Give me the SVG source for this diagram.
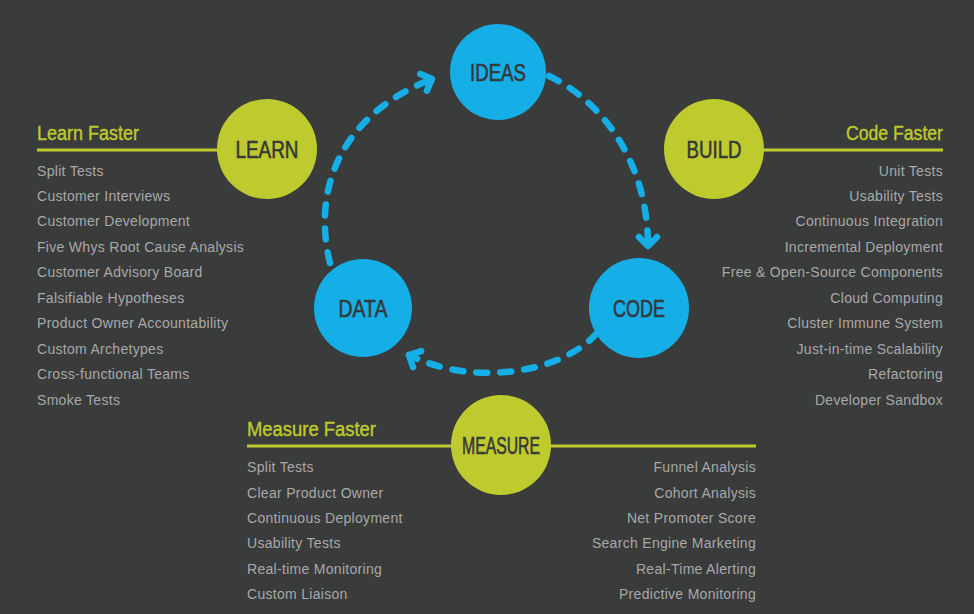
<svg xmlns="http://www.w3.org/2000/svg" width="974" height="614" viewBox="0 0 974 614">
  <style>
    .bg { fill: #3a3b3b; }
    .green { fill: #bfca2f; }
    .blue { fill: #15aee6; }
    .lbl { font-family: "Liberation Sans", Arial, sans-serif; font-size: 24px; fill: #363838; stroke: #363838; stroke-width: 0.6; text-anchor: middle; }
    .head { font-family: "Liberation Sans", Arial, sans-serif; font-size: 20px; fill: #bfca2f; stroke: #bfca2f; stroke-width: 0.4; }
    .item { font-family: "Liberation Sans", Arial, sans-serif; font-size: 14px; fill: #a8a9a9; letter-spacing: 0.3px; }
    .end { text-anchor: end; }
    .rule { stroke: #bfca2f; stroke-width: 2.8; fill: none; }
    .flow { fill: none; stroke: #15aee6; stroke-width: 6.5; stroke-linecap: round; stroke-dasharray: 11 13; }
  </style>
  <defs>
    <marker id="arrow" markerUnits="userSpaceOnUse" viewBox="-16 -12 20 24" markerWidth="20" markerHeight="24" refX="0" refY="0" orient="auto" overflow="visible">
      <path d="M -9 -9 L 0 0 L -9 9" fill="none" stroke="#15aee6" stroke-width="6.5" stroke-linecap="round" stroke-linejoin="round" stroke-dasharray="none"/>
    </marker>
  </defs>
  <rect class="bg" x="0" y="0" width="974" height="614"/>

  <g id="rules">
    <line class="rule" x1="37" y1="150" x2="220" y2="150"/>
    <line class="rule" x1="760" y1="150" x2="943" y2="150"/>
    <line class="rule" x1="247" y1="446" x2="756" y2="446"/>
  </g>

  <g id="connectors">
    <path class="flow" d="M 330 263 C 312 190, 340 115, 432 79" marker-end="url(#arrow)"/>
    <path class="flow" d="M 549 76 C 600 100, 648 160, 648 246" marker-end="url(#arrow)"/>
    <path class="flow" d="M 597 333 C 560 375, 470 386, 409 355" marker-end="url(#arrow)"/>
  </g>

  <g id="node-ideas">
    <circle class="blue" cx="498" cy="72" r="48"/>
    <text class="lbl" x="498" y="81" textLength="56" lengthAdjust="spacingAndGlyphs">IDEAS</text>
  </g>
  <g id="node-code">
    <circle class="blue" cx="639" cy="308" r="50"/>
    <text class="lbl" x="639" y="316.5" textLength="52" lengthAdjust="spacingAndGlyphs">CODE</text>
  </g>
  <g id="node-data">
    <circle class="blue" cx="363" cy="308" r="49"/>
    <text class="lbl" x="363" y="316.5" textLength="49" lengthAdjust="spacingAndGlyphs">DATA</text>
  </g>
  <g id="node-learn">
    <circle class="green" cx="267" cy="149" r="50"/>
    <text class="lbl" x="267" y="157.5" textLength="63" lengthAdjust="spacingAndGlyphs">LEARN</text>
  </g>
  <g id="node-build">
    <circle class="green" cx="714" cy="149" r="50"/>
    <text class="lbl" x="714" y="157.5" textLength="55" lengthAdjust="spacingAndGlyphs">BUILD</text>
  </g>
  <g id="node-measure">
    <circle class="green" cx="501" cy="445" r="50"/>
    <text class="lbl" x="501" y="453.5" textLength="78" lengthAdjust="spacingAndGlyphs">MEASURE</text>
  </g>

  <g id="learn-list">
    <text class="head" x="37" y="140" textLength="102" lengthAdjust="spacingAndGlyphs">Learn Faster</text>
    <text class="item" x="37" y="175.5">Split Tests</text>
    <text class="item" x="37" y="201">Customer Interviews</text>
    <text class="item" x="37" y="226.4">Customer Development</text>
    <text class="item" x="37" y="251.8">Five Whys Root Cause Analysis</text>
    <text class="item" x="37" y="277.3">Customer Advisory Board</text>
    <text class="item" x="37" y="302.7">Falsifiable Hypotheses</text>
    <text class="item" x="37" y="328.2">Product Owner Accountability</text>
    <text class="item" x="37" y="353.6">Custom Archetypes</text>
    <text class="item" x="37" y="379">Cross-functional Teams</text>
    <text class="item" x="37" y="404.5">Smoke Tests</text>
  </g>

  <g id="code-list">
    <text class="head end" x="943" y="140" textLength="97" lengthAdjust="spacingAndGlyphs">Code Faster</text>
    <text class="item end" x="943" y="175.5">Unit Tests</text>
    <text class="item end" x="943" y="201">Usability Tests</text>
    <text class="item end" x="943" y="226.4">Continuous Integration</text>
    <text class="item end" x="943" y="251.8">Incremental Deployment</text>
    <text class="item end" x="943" y="277.3">Free &amp; Open-Source Components</text>
    <text class="item end" x="943" y="302.7">Cloud Computing</text>
    <text class="item end" x="943" y="328.2">Cluster Immune System</text>
    <text class="item end" x="943" y="353.6">Just-in-time Scalability</text>
    <text class="item end" x="943" y="379">Refactoring</text>
    <text class="item end" x="943" y="404.5">Developer Sandbox</text>
  </g>

  <g id="measure-list">
    <text class="head" x="247" y="436" textLength="129" lengthAdjust="spacingAndGlyphs">Measure Faster</text>
    <text class="item" x="247" y="472">Split Tests</text>
    <text class="item" x="247" y="497.5">Clear Product Owner</text>
    <text class="item" x="247" y="523">Continuous Deployment</text>
    <text class="item" x="247" y="548.4">Usability Tests</text>
    <text class="item" x="247" y="573.8">Real-time Monitoring</text>
    <text class="item" x="247" y="599.2">Custom Liaison</text>
    <text class="item end" x="756" y="472">Funnel Analysis</text>
    <text class="item end" x="756" y="497.5">Cohort Analysis</text>
    <text class="item end" x="756" y="523">Net Promoter Score</text>
    <text class="item end" x="756" y="548.4">Search Engine Marketing</text>
    <text class="item end" x="756" y="573.8">Real-Time Alerting</text>
    <text class="item end" x="756" y="599.2">Predictive Monitoring</text>
  </g>
</svg>
